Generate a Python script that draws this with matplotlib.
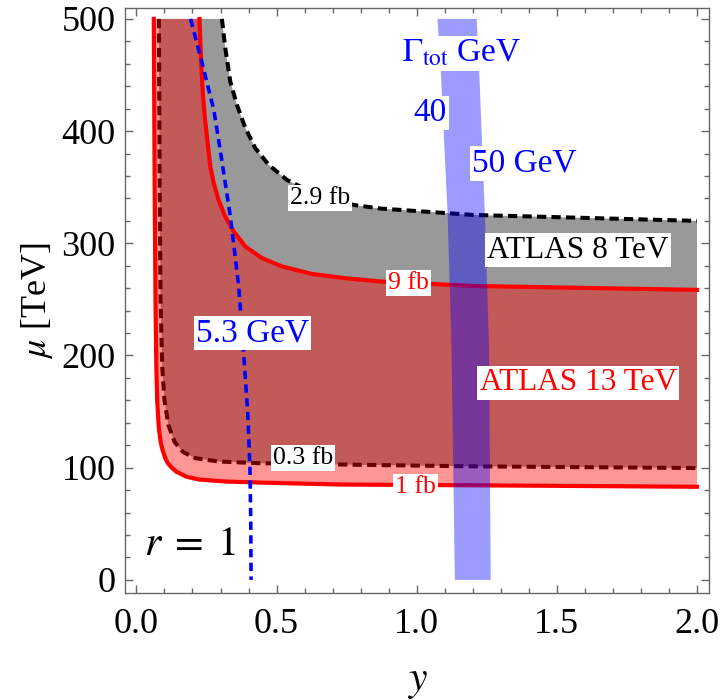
import numpy as np
import matplotlib
matplotlib.use("Agg")
from matplotlib import pyplot as plt
from matplotlib.ticker import MultipleLocator, FormatStrFormatter

plt.rcParams["font.family"] = ["Liberation Serif", "DejaVu Serif"]
plt.rcParams["mathtext.fontset"] = "stix"

# contour curves, ordered from the top (mu = 500) to the right edge (y = 2)
fb1_x = [0.062, 0.065, 0.068, 0.071, 0.074, 0.080, 0.087, 0.093, 0.102, 0.112, 0.126, 0.142,
         0.178, 0.222, 0.317, 0.46, 0.727, 1.2, 2.0]
fb1_y = [500, 350, 250, 190, 160, 135, 122, 116, 109, 104, 100, 96.5,
         92, 89.5, 87.7, 86.6, 85.0, 84.3, 83.0]

fb03_x = [0.080, 0.083, 0.086, 0.092, 0.100, 0.114, 0.136, 0.166, 0.210, 0.293, 0.436, 0.813, 1.2, 2.0]
fb03_y = [500, 350, 250, 190, 160, 138, 123, 114, 108.5, 105.5, 104, 102.5, 101.2, 99.7]

fb9_x = [0.225, 0.228, 0.232, 0.238, 0.245, 0.257, 0.264, 0.276, 0.293, 0.317, 0.347, 0.389,
         0.448, 0.519, 0.626, 0.745, 0.87, 1.2, 2.0]
fb9_y = [500, 480, 455, 430, 410, 383, 368, 353.5, 338.7, 323.8, 310.5, 297,
         286.8, 279.4, 272.7, 268.9, 266, 262, 258.5]

fb29_x = [0.305, 0.317, 0.335, 0.359, 0.389, 0.424, 0.472, 0.537, 0.65, 0.775, 0.87, 1.2, 2.0]
fb29_y = [500, 474, 444, 423, 402.6, 384.8, 369.9, 356.5, 342.5, 334.2, 331, 325.3, 320]

# Gamma_tot = 5.3 GeV contour
g53_x = [0.193, 0.235, 0.276, 0.299, 0.335, 0.365, 0.383, 0.397, 0.405, 0.408, 0.409]
g53_y = [500, 460, 419, 383, 324, 261.5, 200, 150, 100, 50, 0]

# band between Gamma_tot = 40 and 50 GeV
band_y = [500, 453, 327, 208, 0]
band_left = [1.074, 1.086, 1.110, 1.124, 1.136]
band_right = [1.214, 1.223, 1.243, 1.258, 1.264]

fig = plt.figure(figsize=(7.28, 7.0), dpi=100)
ax = fig.add_axes([0.172, 0.153, 0.802, 0.836])

# ATLAS 8 TeV region (between 0.3 fb and 2.9 fb)
ax.fill(np.concatenate([fb03_x, fb29_x[::-1]]), np.concatenate([fb03_y, fb29_y[::-1]]),
        color="black", alpha=0.4, lw=0, zorder=1)
ax.plot(fb03_x, fb03_y, color="black", lw=2.9, dashes=(2.3, 1.3), zorder=2)
ax.plot(fb29_x, fb29_y, color="black", lw=2.9, dashes=(2.3, 1.3), zorder=2)

# ATLAS 13 TeV region (between 1 fb and 9 fb)
ax.fill(np.concatenate([fb1_x, fb9_x[::-1]]), np.concatenate([fb1_y, fb9_y[::-1]]),
        color="red", alpha=0.41, lw=0, zorder=3)
ax.plot(fb1_x, fb1_y, color="red", lw=3.0, zorder=4)
ax.plot(fb9_x, fb9_y, color="red", lw=3.0, zorder=4)

ax.plot(g53_x, g53_y, color="blue", lw=2.6, dashes=(2.3, 1.5), zorder=5)

ax.fill(np.concatenate([band_left, band_right[::-1]]), np.concatenate([band_y, band_y[::-1]]),
        color="blue", alpha=0.39, lw=0, zorder=6)

box = dict(facecolor="white", edgecolor="none", pad=1.5)
labels = [
    (0.656, 340, "2.9 fb", "black", 18.5),
    (0.970, 265, "9 fb", "red", 18.5),
    (0.594, 109, "0.3 fb", "black", 18.5),
    (0.997, 83, "1 fb", "red", 18.5),
    (1.576, 294, "ATLAS 8 TeV", "black", 22.5),
    (1.576, 175.5, "ATLAS 13 TeV", "red", 22.5),
    (0.413, 220, "5.3 GeV", "blue", 24),
    (1.159, 469, r"$\Gamma_{\rm tot}$ GeV", "blue", 24),
    (1.048, 416, "40", "blue", 24),
    (1.383, 371, "50 GeV", "blue", 24),
]
for x, y, s, c, fs in labels:
    ax.text(x, y, s, color=c, fontsize=fs, ha="center", va="center", bbox=box, zorder=7)

ax.text(0.19, 31, r"$r\;=\;1$", fontsize=30, ha="center", va="center", zorder=7)

ax.set_xlim(-0.04, 2.043)
ax.set_ylim(-11.6, 510)
ax.xaxis.set_major_locator(MultipleLocator(0.5))
ax.xaxis.set_minor_locator(MultipleLocator(0.1))
ax.yaxis.set_major_locator(MultipleLocator(100))
ax.yaxis.set_minor_locator(MultipleLocator(20))
ax.xaxis.set_major_formatter(FormatStrFormatter("%.1f"))

ax.tick_params(which="both", direction="in", top=True, right=True, color="#666666", width=1)
ax.tick_params(which="major", length=6, labelsize=26, pad=7)
ax.tick_params(which="minor", length=3.5)
ax.tick_params(axis="x", which="major", pad=11)
for sp in ax.spines.values():
    sp.set_color("#666666")
    sp.set_linewidth(1)

ax.set_ylabel(r"$\mu$ [TeV]", fontsize=26)
ax.set_xlabel(r"$y$", fontsize=30)
ax.yaxis.set_label_coords(-0.151, 0.5)
ax.yaxis.label.set_verticalalignment("center")
ax.xaxis.set_label_coords(0.5, -0.152)
ax.xaxis.label.set_verticalalignment("center")

plt.savefig("out.png", dpi=100)
